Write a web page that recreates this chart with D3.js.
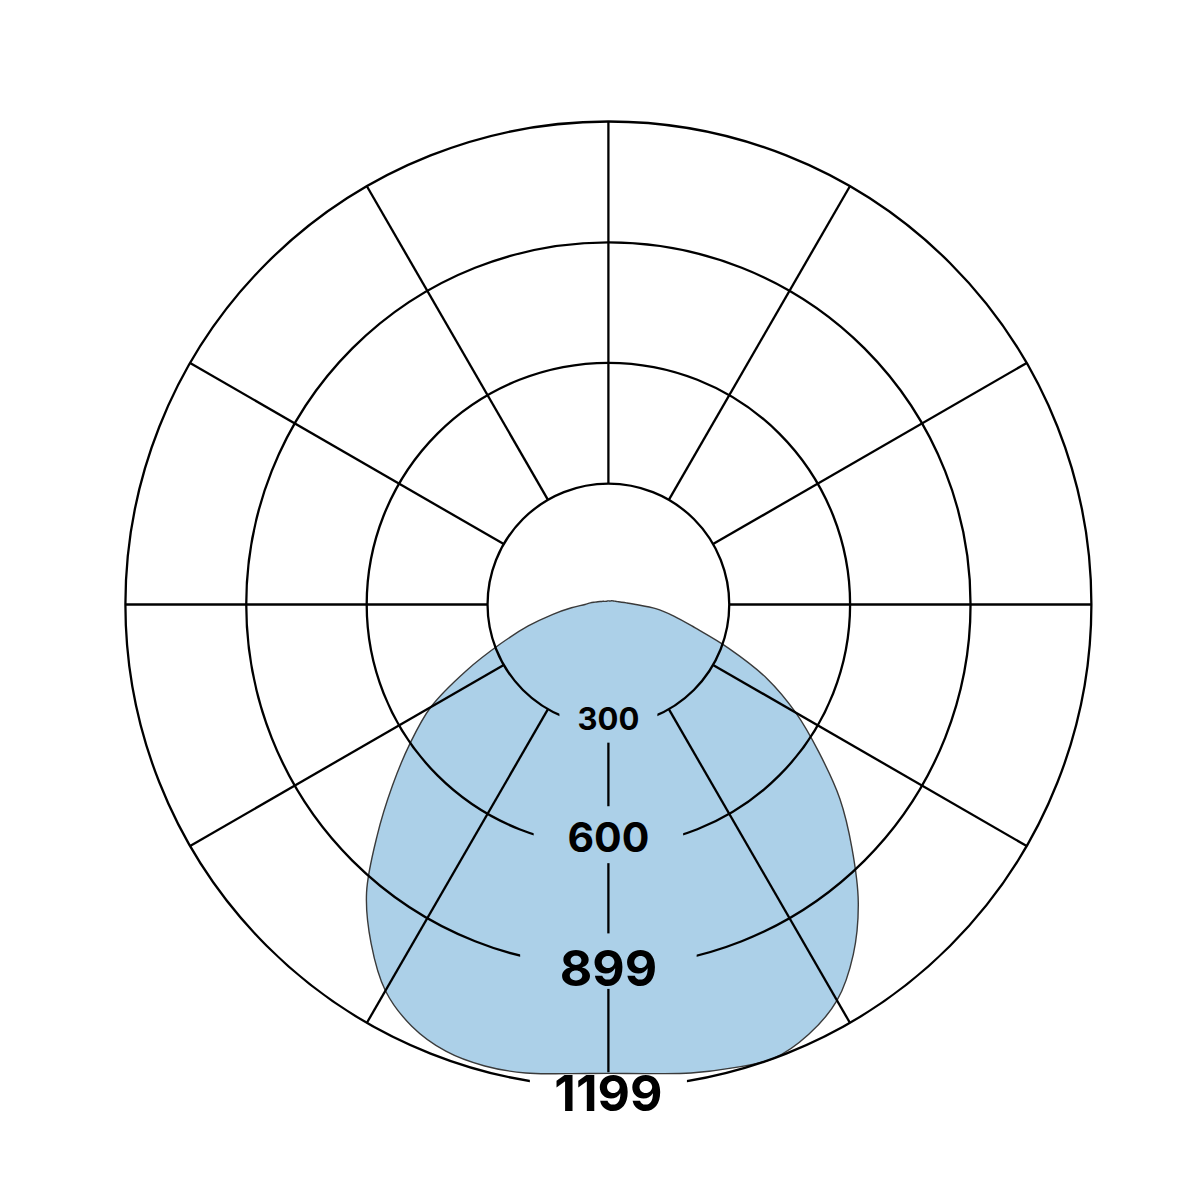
<!DOCTYPE html>
<html><head><meta charset="utf-8">
<script src="https://cdn.jsdelivr.net/npm/d3@7"></script>
<style>body{margin:0;background:#fff}</style></head>
<body>
<svg id="chart" width="1201" height="1201"></svg>
<script>
// ---- data ----
// gamma angles (degrees from nadir)
const gammaAngles = [0,5,10,15,20,25,30,35,40,45,50,55,60,65,70,75,80,85,90,95,100,105,110,115,120,125,130,135,140,145,150,155,160,165,170,175,180];
// intensity on the right half-plane (C0)
const intensityC0 = [1164,1169,1181,1191,1199,1177,1135,1060,965,855,750,637,537,434,318,222,165,118,68,45,33,26,22,19,17,15,14,13,12,11,10,10,9,9,9,9,9];
// intensity on the left half-plane (C180)
const intensityC180 = [1162,1169,1181,1186,1180,1155,1107,1027,934,812,700,601,509,390,285,206,140,92,58,45,34,27,22,18,16,14,12,11,10,10,9,9,9,9,9,9,9];
// radial grid
const ringValues = [300,600,899,1199];
const ringLabels = ["300","600","899","1199"];
const spokeAngles = [0,30,60,90,120,150,180,210,240,270,300,330];
const maxValue = 1199;

// ---- layout ----
const cx = 608.4, cy = 604.5, R = 483;
const labelSizes = [31,41,50,50];
const labelNudge = [-7,-9,1,5];
const gapPadX = [19,35,41,26];
const gapPadTop = [8,16,16,2];
const gapPadBottom = [13,11,3,8];

const svg = d3.select("#chart");
const r = d3.scaleLinear().domain([0, maxValue]).range([0, R]);
const g = svg.append("g").attr("transform", `translate(${cx},${cy})`);
const toRad = d => d * Math.PI / 180;

// polygon points: right half (gamma 0..180) then left half (gamma 175..5)
const pts = [];
gammaAngles.forEach((a,i) => pts.push([toRad(180 - a), r(intensityC0[i])]));
for (let i = gammaAngles.length - 2; i >= 1; i--) pts.push([toRad(180 + gammaAngles[i]), r(intensityC180[i])]);

const radial = d3.lineRadial().angle(d => d[0]).radius(d => d[1]).curve(d3.curveCatmullRomClosed.alpha(0.5));
g.append("path").attr("d", radial(pts))
  .attr("fill", "#acd0e8").attr("stroke", "#3a3a3a").attr("stroke-width", 1.4);

// labels (measure first for mask)
const defs = svg.append("defs");
const mask = defs.append("mask").attr("id","gridmask").attr("maskUnits","userSpaceOnUse")
  .attr("x",-cx).attr("y",-cy).attr("width",1201).attr("height",1201);
mask.append("rect").attr("x",-cx).attr("y",-cy).attr("width",1201).attr("height",1201).attr("fill","#fff");

const labelG = g.append("g");
ringValues.forEach((v,i) => {
  const fs = labelSizes[i];
  const yc = r(v) + labelNudge[i];
  const t = labelG.append("text")
    .attr("x", 0).attr("y", yc + 0.36 * fs)
    .attr("text-anchor","middle")
    .attr("font-family","Inter, 'Liberation Sans', Arial, sans-serif")
    .attr("font-weight", 700)
    .attr("font-size", fs)
    .attr("fill","#000")
    .text(ringLabels[i]);
  const w = t.node().getComputedTextLength() - 0.06 * fs;
  const h = 0.73 * fs;
  mask.append("rect")
    .attr("x", -w/2 - gapPadX[i]).attr("y", yc - h/2 - gapPadTop[i])
    .attr("width", w + 2*gapPadX[i]).attr("height", h + gapPadTop[i] + gapPadBottom[i])
    .attr("fill","#000");
});

// grid on top of the fill
const grid = g.insert("g", () => labelG.node()).attr("mask","url(#gridmask)")
  .attr("fill","none").attr("stroke","#000").attr("stroke-width",2.3);
ringValues.forEach(v => grid.append("circle").attr("r", r(v)));
spokeAngles.forEach(a => {
  const t = toRad(a);
  grid.append("line")
    .attr("x1", r(ringValues[0]) * Math.sin(t)).attr("y1", -r(ringValues[0]) * Math.cos(t))
    .attr("x2", r(maxValue) * Math.sin(t)).attr("y2", -r(maxValue) * Math.cos(t));
});
</script></body></html>
